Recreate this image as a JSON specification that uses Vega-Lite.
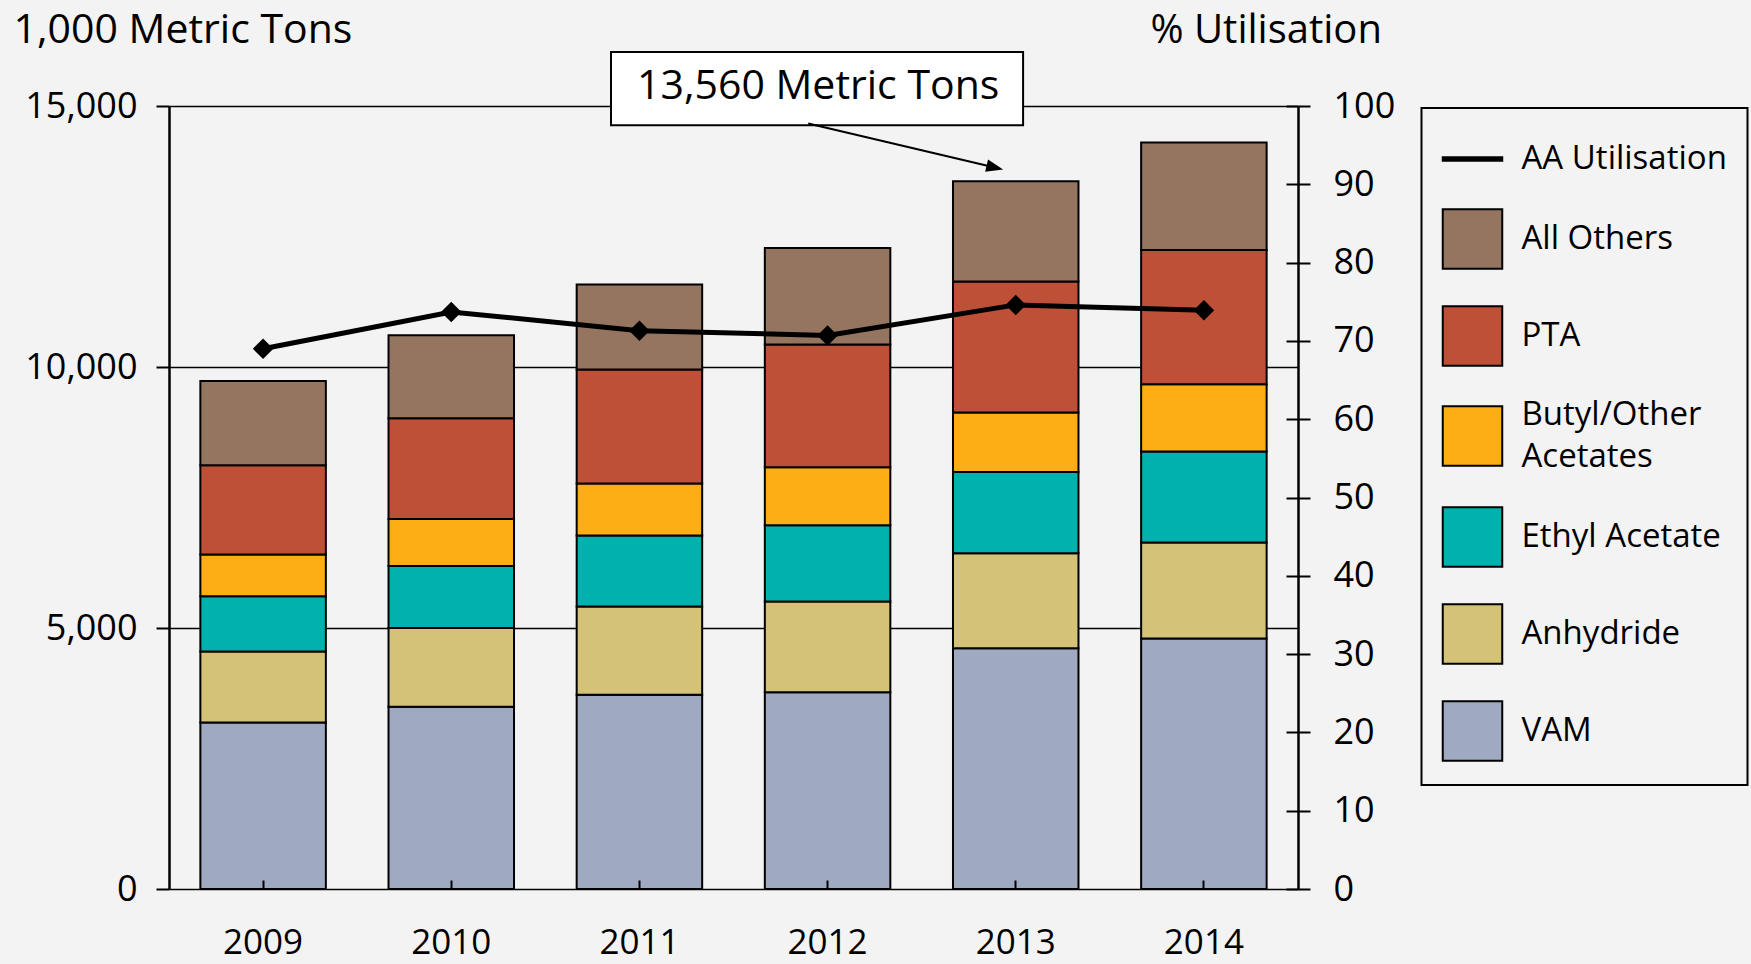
{
  "$schema": "https://vega.github.io/schema/vega-lite/v6.json",
  "width": 1129,
  "height": 783,
  "autosize": {"type": "none"},
  "padding": {"left": 169, "top": 106, "right": 453, "bottom": 75},
  "background": "#f3f3f3",
  "config": {
    "font": "Open Sans",
    "view": {"stroke": null},
    "axis": {
      "labelColor": "black", "tickColor": "black", "domainColor": "black", "gridColor": "black",
      "labelFontSize": 36, "labelFont": "Open Sans", "titleFont": "Open Sans", "titleFontWeight": "normal",
      "titleColor": "black", "titleFontSize": 40, "tickWidth": 2, "domainWidth": 2.5, "gridWidth": 1.5, "gridOpacity": 1
    }
  },
  "datasets": {
    "production": [
      {"year": "2009", "series": "VAM", "value": 3190, "order": 1},
      {"year": "2009", "series": "Anhydride", "value": 1360, "order": 2},
      {"year": "2009", "series": "Ethyl Acetate", "value": 1060, "order": 3},
      {"year": "2009", "series": "Butyl/Other Acetates", "value": 800, "order": 4},
      {"year": "2009", "series": "PTA", "value": 1710, "order": 5},
      {"year": "2009", "series": "All Others", "value": 1610, "order": 6},
      {"year": "2010", "series": "VAM", "value": 3490, "order": 1},
      {"year": "2010", "series": "Anhydride", "value": 1510, "order": 2},
      {"year": "2010", "series": "Ethyl Acetate", "value": 1190, "order": 3},
      {"year": "2010", "series": "Butyl/Other Acetates", "value": 900, "order": 4},
      {"year": "2010", "series": "PTA", "value": 1930, "order": 5},
      {"year": "2010", "series": "All Others", "value": 1590, "order": 6},
      {"year": "2011", "series": "VAM", "value": 3720, "order": 1},
      {"year": "2011", "series": "Anhydride", "value": 1690, "order": 2},
      {"year": "2011", "series": "Ethyl Acetate", "value": 1360, "order": 3},
      {"year": "2011", "series": "Butyl/Other Acetates", "value": 1000, "order": 4},
      {"year": "2011", "series": "PTA", "value": 2180, "order": 5},
      {"year": "2011", "series": "All Others", "value": 1630, "order": 6},
      {"year": "2012", "series": "VAM", "value": 3770, "order": 1},
      {"year": "2012", "series": "Anhydride", "value": 1740, "order": 2},
      {"year": "2012", "series": "Ethyl Acetate", "value": 1460, "order": 3},
      {"year": "2012", "series": "Butyl/Other Acetates", "value": 1110, "order": 4},
      {"year": "2012", "series": "PTA", "value": 2350, "order": 5},
      {"year": "2012", "series": "All Others", "value": 1850, "order": 6},
      {"year": "2013", "series": "VAM", "value": 4610, "order": 1},
      {"year": "2013", "series": "Anhydride", "value": 1820, "order": 2},
      {"year": "2013", "series": "Ethyl Acetate", "value": 1560, "order": 3},
      {"year": "2013", "series": "Butyl/Other Acetates", "value": 1140, "order": 4},
      {"year": "2013", "series": "PTA", "value": 2510, "order": 5},
      {"year": "2013", "series": "All Others", "value": 1920, "order": 6},
      {"year": "2014", "series": "VAM", "value": 4800, "order": 1},
      {"year": "2014", "series": "Anhydride", "value": 1840, "order": 2},
      {"year": "2014", "series": "Ethyl Acetate", "value": 1740, "order": 3},
      {"year": "2014", "series": "Butyl/Other Acetates", "value": 1290, "order": 4},
      {"year": "2014", "series": "PTA", "value": 2570, "order": 5},
      {"year": "2014", "series": "All Others", "value": 2060, "order": 6}
    ],
    "utilisation": [
      {"year": "2009", "util": 69.0},
      {"year": "2010", "util": 73.7},
      {"year": "2011", "util": 71.3},
      {"year": "2012", "util": 70.7},
      {"year": "2013", "util": 74.6},
      {"year": "2014", "util": 73.9}
    ]
  },
  "layer": [
    {
      "data": {"name": "production"},
      "mark": {"type": "bar", "stroke": "black", "strokeWidth": 2},
      "encoding": {
        "x": {
          "field": "year", "type": "nominal",
          "scale": {"paddingInner": 0.333, "paddingOuter": 0.1667},
          "axis": {"orient": "bottom", "bandPosition": 0.5, "title": null, "domain": false, "grid": false,
                   "tickSize": -9, "labelPadding": 73, "labelBaseline": "alphabetic", "labelFontSize": 35, "labelAngle": 0, "zindex": 1}
        },
        "y": {
          "field": "value", "type": "quantitative", "stack": "zero",
          "scale": {"domain": [0, 15000], "nice": false},
          "axis": {"orient": "left", "values": [0, 5000, 10000, 15000], "labelExpr": "format(datum.value, ',')", "grid": true,
                   "tickSize": 13, "labelPadding": 19, "domain": true,
                   "title": "1,000 Metric Tons", "titleAngle": 0, "titleX": -156, "titleY": -64, "titleFontSize": 41,
                   "titleAlign": "left", "titleBaseline": "alphabetic"}
        },
        "order": {"field": "order", "type": "quantitative"},
        "color": {
          "field": "series", "type": "nominal",
          "scale": {
            "domain": ["AA Utilisation", "All Others", "PTA", "Butyl/Other Acetates", "Ethyl Acetate", "Anhydride", "VAM"],
            "range": ["#000000", "#957560", "#BE5038", "#FDAE14", "#00B1AD", "#D4C277", "#9FA9C1"]
          },
          "legend": {
            "title": null, "orient": "none", "legendX": 1252.5, "legendY": 2,
            "symbolSize": 3540, "symbolStrokeColor": "black", "symbolStrokeWidth": 2,
            "labelFontSize": 33, "labelFont": "Open Sans", "labelColor": "black", "labelOffset": 18,
            "rowPadding": 29, "padding": 20, "strokeColor": "black", "labelLimit": 400,
            "labelExpr": "datum.label == 'Butyl/Other Acetates' ? ['Butyl/Other', 'Acetates'] : datum.label",
            "encode": {
              "symbols": {"update": {
                "shape": {"signal": "datum.value == 'AA Utilisation' ? 'M-1,-0.06H1V0.06H-1Z' : 'square'"},
                "stroke": {"value": "black"}, "strokeWidth": {"value": 2}}},
              "labels": {"update": {
                "lineHeight": {"value": 42},
                "dy": {"signal": "datum.label == 'Butyl/Other Acetates' ? -21 : 0"}}},
              "legend": {"update": {"strokeWidth": {"value": 2}}}
            }
          }
        }
      }
    },
    {
      "data": {"name": "utilisation"},
      "mark": {"type": "line", "color": "black", "strokeWidth": 5},
      "encoding": {
        "x": {"field": "year", "type": "nominal", "axis": null},
        "y": {
          "field": "util", "type": "quantitative",
          "scale": {"domain": [0, 100], "nice": false},
          "axis": {"orient": "right", "values": [0, 10, 20, 30, 40, 50, 60, 70, 80, 90, 100],
                   "tickSize": 12, "labelPadding": 23, "grid": false, "domain": true,
                   "title": "% Utilisation", "titleAngle": 0, "titleX": -148, "titleY": -64,
                   "titleAlign": "left", "titleBaseline": "alphabetic"}
        }
      }
    },
    {
      "data": {"name": "utilisation"},
      "mark": {"type": "point", "shape": "diamond", "filled": true, "color": "black", "size": 420, "opacity": 1},
      "encoding": {
        "x": {"field": "year", "type": "nominal", "axis": null},
        "y": {
          "field": "util", "type": "quantitative",
          "scale": {"domain": [0, 100], "nice": false},
          "axis": {"orient": "right", "values": [0, 10, 20, 30, 40, 50, 60, 70, 80, 90, 100],
                   "tickSize": -12, "labels": false, "grid": false, "domain": false, "title": null}
        }
      }
    },
    {
      "data": {"values": [{}]},
      "layer": [
        {
          "mark": {"type": "rect", "fill": "white", "stroke": "black", "strokeWidth": 2},
          "encoding": {
            "x": {"datum": 2.349, "type": "quantitative",
                  "scale": {"domain": [0, 6], "nice": false, "zero": false},
                  "axis": {"orient": "bottom", "values": [0, 1, 2, 3, 4, 5, 6], "grid": true, "tickSize": 12,
                           "labels": false, "domain": true, "title": null}},
            "x2": {"datum": 4.539},
            "y": {"datum": 14630, "type": "quantitative",
                  "scale": {"domain": [0, 15000], "nice": false},
                  "axis": {"orient": "left", "values": [1000, 2000, 3000, 4000, 6000, 7000, 8000, 9000, 11000, 12000, 13000, 14000],
                           "tickSize": -9, "labels": false, "domain": false, "grid": false, "title": null}},
            "y2": {"datum": 16034}
          }
        },
        {
          "mark": {"type": "text", "fontSize": 41, "font": "Open Sans", "color": "black", "align": "center", "baseline": "middle"},
          "encoding": {
            "x": {"datum": 3.45, "type": "quantitative", "axis": null},
            "y": {"datum": 15364, "type": "quantitative", "axis": null},
            "text": {"value": "13,560 Metric Tons"}
          }
        },
        {
          "mark": {"type": "rule", "color": "black", "strokeWidth": 2},
          "encoding": {
            "x": {"datum": 3.397, "type": "quantitative", "axis": null},
            "y": {"datum": 14663, "type": "quantitative", "axis": null},
            "x2": {"datum": 4.389},
            "y2": {"datum": 13820}
          }
        },
        {
          "mark": {"type": "point", "shape": "M1,0L-1,-0.75L-1,0.75Z", "filled": true, "color": "black", "size": 289, "angle": 13.3, "opacity": 1},
          "encoding": {
            "x": {"datum": 4.389, "type": "quantitative", "axis": null},
            "y": {"datum": 13820, "type": "quantitative", "axis": null}
          }
        }
      ]
    }
  ],
  "resolve": {"scale": {"x": "independent", "y": "independent"}}
}
